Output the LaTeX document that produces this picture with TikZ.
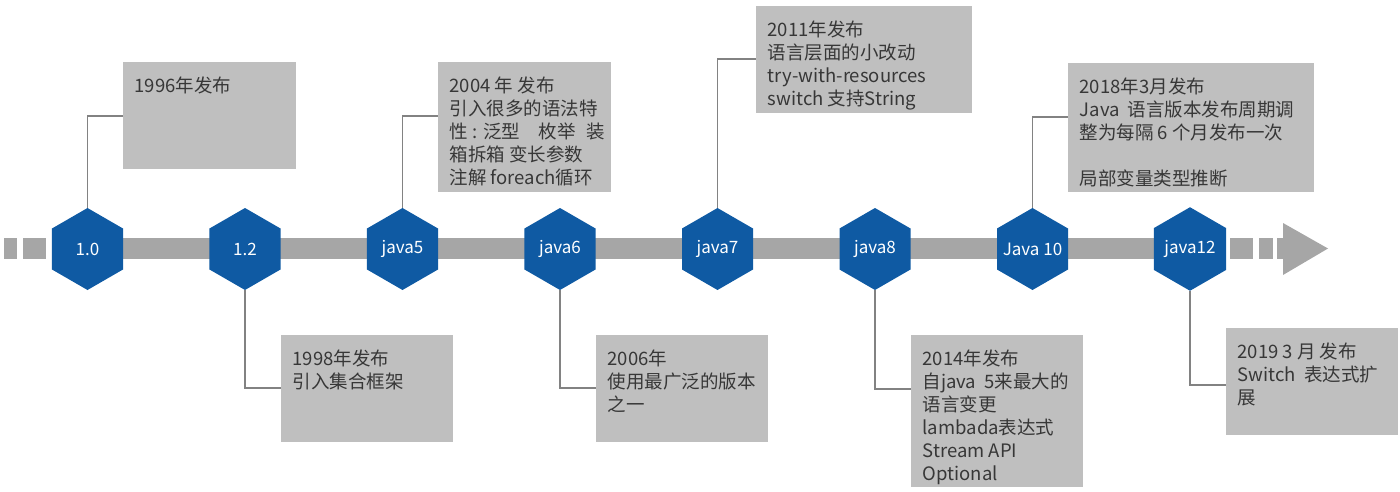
\documentclass[tikz,border=0pt]{standalone}
\usepackage{fontspec}
\setmainfont{Noto Sans CJK SC}
\usetikzlibrary{shapes.geometric}
\definecolor{hexblue}{RGB}{15,90,163}
\definecolor{boxgray}{RGB}{191,191,191}
\definecolor{bargray}{RGB}{166,166,166}
\definecolor{leadgray}{RGB}{130,130,130}
\definecolor{textgray}{RGB}{55,55,55}

\begin{document}
\begin{tikzpicture}[
		x=1pt, y=-1pt,
		version/.style={regular polygon, regular polygon sides=6, shape border rotate=30,
			fill=hexblue, text=white, inner sep=0pt, minimum size=82pt,
			font=\fontsize{17}{20}\selectfont},
		infobox/.style={fill=boxgray, inner sep=0pt, anchor=north west},
		infotext/.style={anchor=north west, align=left, inner xsep=11.5pt, inner ysep=15pt,
			text=textgray, font=\fontsize{18.5}{23}\selectfont},
		leader/.style={draw=leadgray, line width=1.2pt}
	]
		\useasboundingbox (0,0) rectangle (1400,492);

		% timeline bar
		\fill[bargray] (4,238) rectangle (17,259);
		\fill[bargray] (23,238) rectangle (46,259);
		\fill[bargray] (87,238) rectangle (1190,259);
		\fill[bargray] (1230,238) rectangle (1253,259);
		\fill[bargray] (1259,238) rectangle (1273,259);
		\fill[bargray] (1277,238) rectangle (1283,259);
		\fill[bargray] (1283,223) -- (1328,248.5) -- (1283,275) -- cycle;

		% versions
		\node[version] (ver1) at (87.5,249) {1.0};
		\node[version] (ver2) at (245,249) {1.2};
		\node[version] (java5) at (402.5,249) {java5};
		\node[version] (java6) at (560,249) {java6};
		\node[version] (java7) at (717.5,249) {java7};
		\node[version] (java8) at (875,249) {java8};
		\node[version] (java10) at (1032.5,249) {\makebox[0pt]{Java 10}};
		\node[version] (java12) at (1190,249) {java12};

		% notes
		\node[infobox, minimum width=173pt, minimum height=107pt] (box96) at (123,62) {};
		\node[infotext] (txt96) at (box96.north west) {1996年发布};

		\node[infobox, minimum width=172pt, minimum height=107pt] (box98) at (281,335) {};
		\node[infotext] (txt98) at (box98.north west) {1998年发布\\引入集合框架};

		\node[infobox, minimum width=173pt, minimum height=130pt] (box04) at (438,62) {};
		\node[infotext] (txt04) at (box04.north west)
			{2004 年 发布\\引入很多的语法特\\性 : 泛型\hspace{1em}枚举\hspace{0.6em}装\\箱拆箱 变长参数\\注解 foreach循环};

		\node[infobox, minimum width=172pt, minimum height=107pt] (box06) at (596,335) {};
		\node[infotext] (txt06) at (box06.north west) {2006年\\使用最广泛的版本\\之一};

		\node[infobox, minimum width=216pt, minimum height=107pt] (box11) at (756,6) {};
		\node[infotext] (txt11) at (box11.north west)
			{2011年发布\\语言层面的小改动\\try-with-resources\\switch 支持String};

		\node[infobox, minimum width=172pt, minimum height=152pt] (box14) at (911,335) {};
		\node[infotext] (txt14) at (box14.north west)
			{2014年发布\\自java~~5来最大的\\语言变更\\lambada表达式\\Stream API\\Optional};

		\node[infobox, minimum width=246pt, minimum height=129pt] (box18) at (1068,63) {};
		\node[infotext] (txt18) at (box18.north west)
			{2018年3月发布\\Java~~语言版本发布周期调\\整为每隔 6 个月发布一次\\[23pt]局部变量类型推断};

		\node[infobox, minimum width=172pt, minimum height=107pt] (box19) at (1226,328) {};
		\node[infotext] (txt19) at (box19.north west) {2019 3 月 发布\\Switch~~表达式扩\\展};

		% leaders
		\draw[leader] (ver1.90) |- ([yshift=-54pt]box96.north west);
		\draw[leader] (ver2.270) |- ([yshift=-53pt]box98.north west);
		\draw[leader] (java5.90) |- ([yshift=-54pt]box04.north west);
		\draw[leader] (java6.270) |- ([yshift=-53pt]box06.north west);
		\draw[leader] (java7.90) |- ([yshift=-53pt]box11.north west);
		\draw[leader] (java8.270) |- ([yshift=-54pt]box14.north west);
		\draw[leader] (java10.90) |- ([yshift=-54pt]box18.north west);
		\draw[leader] (java12.270) |- ([yshift=-57pt]box19.north west);
	\end{tikzpicture}
\end{document}
